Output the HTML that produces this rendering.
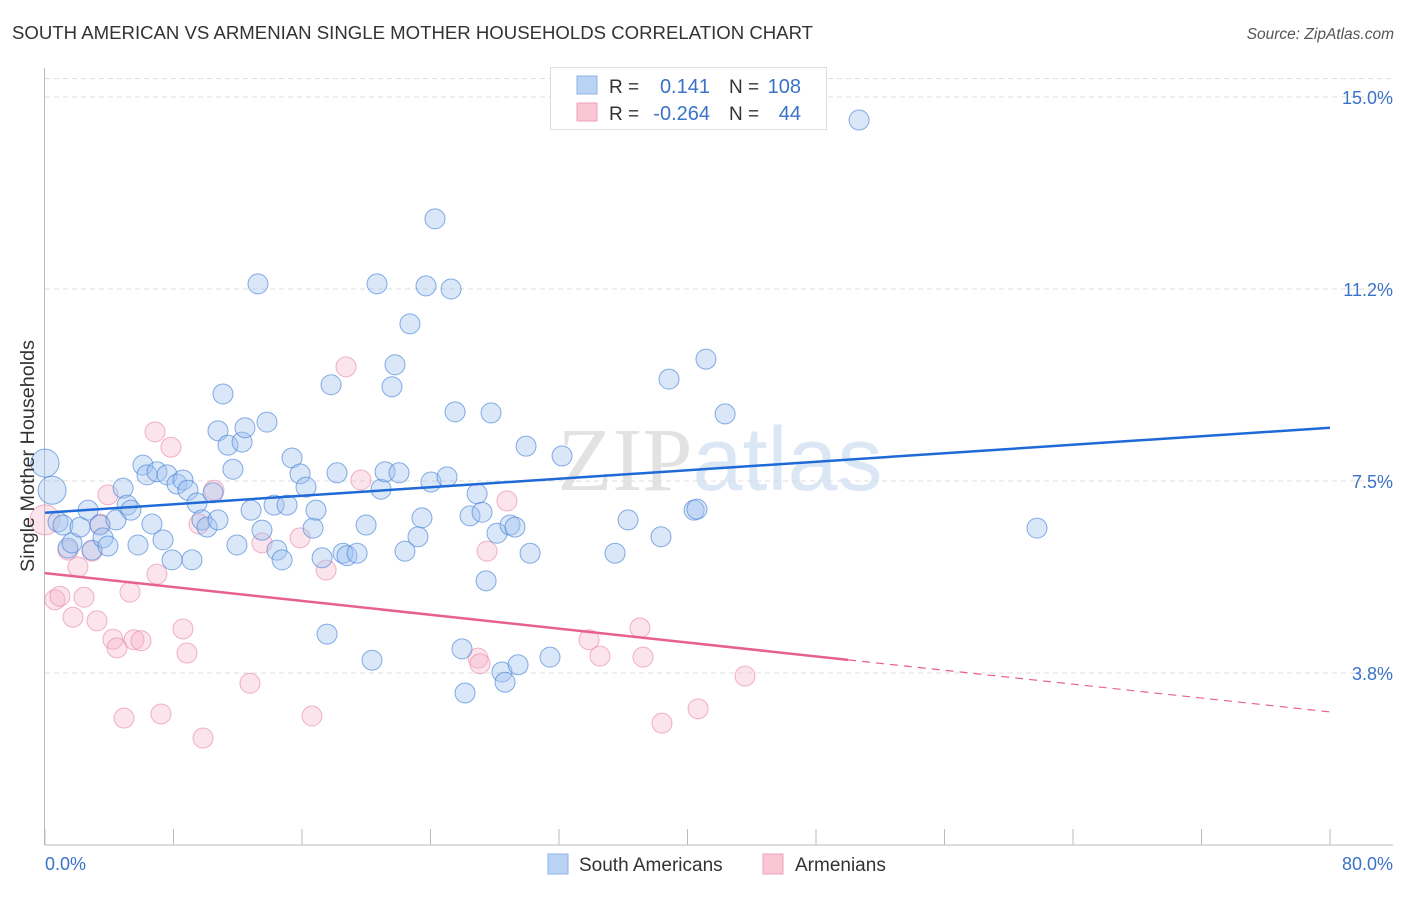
<!DOCTYPE html>
<html><head><meta charset="utf-8"><style>
body{margin:0;background:#fff;font-family:"Liberation Sans",sans-serif;}
svg text{font-family:"Liberation Sans",sans-serif;}
</style></head><body>
<svg id="chart" width="1406" height="892" viewBox="0 0 1406 892" xmlns="http://www.w3.org/2000/svg">
<text x="12" y="39" font-size="18.6" fill="#333">SOUTH AMERICAN VS ARMENIAN SINGLE MOTHER HOUSEHOLDS CORRELATION CHART</text>
<text x="1394" y="39" font-size="15.5" fill="#555" font-style="italic" text-anchor="end">Source: ZipAtlas.com</text>
<text x="720" y="490" font-size="90" fill="#e4e8ee" text-anchor="middle"><tspan font-family="Liberation Serif" fill="#e2e2e2">ZIP</tspan><tspan fill="#dce7f5">atlas</tspan></text>
<g id="grid"></g>
<g id="axes"></g>
<g id="pts"></g>
<g id="trends"></g>
<text x="34" y="456" font-size="19.8" fill="#333" text-anchor="middle" transform="rotate(-90 34 456)">Single Mother Households</text>
<g>
<rect x="550.5" y="67.5" width="276" height="62" fill="#fff" stroke="#ddd"/>
<rect x="577" y="76" width="20" height="18" fill="#b9d3f5" stroke="#8fb2e6"/>
<rect x="577" y="103" width="20" height="18" fill="#f9c6d5" stroke="#eea3bb"/>
<text x="609" y="93" font-size="19" fill="#333">R =</text>
<text x="710" y="93" font-size="20" fill="#3a72c9" text-anchor="end">0.141</text>
<text x="729" y="93" font-size="19" fill="#333">N =</text>
<text x="801" y="93" font-size="20" fill="#3a72c9" text-anchor="end">108</text>
<text x="609" y="120" font-size="19" fill="#333">R =</text>
<text x="710" y="120" font-size="20" fill="#3a72c9" text-anchor="end">-0.264</text>
<text x="729" y="120" font-size="19" fill="#333">N =</text>
<text x="801" y="120" font-size="20" fill="#3a72c9" text-anchor="end">44</text>
</g>
<g>
<rect x="548" y="854" width="20" height="20" fill="#b9d3f5" stroke="#8fb2e6"/>
<text x="579" y="871" font-size="19" fill="#333">South Americans</text>
<rect x="763" y="854" width="20" height="20" fill="#f9c6d5" stroke="#eea3bb"/>
<text x="795" y="871" font-size="19" fill="#333">Armenians</text>
</g>
</svg>
<script>
const blueX=[0,0.44,0.81,1.12,1.43,1.68,2.18,2.68,2.93,3.42,3.61,3.92,4.42,4.86,5.11,5.35,5.79,6.10,6.35,6.66,6.97,7.35,7.60,7.91,8.22,8.59,8.90,9.15,9.46,9.77,10.09,10.46,10.77,11.08,10.77,11.39,11.70,11.95,12.27,12.45,12.83,13.26,13.51,13.82,14.26,14.44,14.76,15.07,15.38,15.88,16.25,16.69,16.87,17.25,17.56,17.81,18.18,18.55,18.80,19.43,19.99,20.36,20.67,20.92,21.17,21.60,21.79,22.04,22.41,22.72,23.22,23.47,23.72,24.03,24.28,25.03,25.28,25.53,25.96,26.15,26.46,26.90,27.21,27.46,27.77,28.14,28.45,28.64,28.95,29.26,29.45,29.95,30.20,31.44,32.19,35.49,36.30,38.35,38.85,40.41,40.59,41.15,42.34,50.68,61.76];
const blueY=[7.85,7.32,6.70,6.64,6.19,6.29,6.60,6.93,6.15,6.64,6.39,6.23,6.74,7.36,7.03,6.93,6.25,7.81,7.62,6.66,7.68,6.35,7.62,5.96,7.44,7.52,7.32,5.96,7.07,6.74,6.60,7.27,6.74,9.20,8.48,8.20,7.73,6.25,8.26,8.54,6.93,11.35,6.54,8.65,7.03,6.15,5.96,7.03,7.95,7.64,7.38,6.58,6.93,6.00,4.51,9.38,7.66,6.09,6.04,6.09,6.64,4.00,11.35,7.34,7.68,9.34,9.77,7.66,6.13,10.57,6.41,6.78,11.31,7.48,12.62,7.58,11.25,8.85,4.22,3.36,6.82,7.25,6.89,5.55,8.83,6.48,3.77,3.57,6.64,6.60,3.91,8.18,6.09,4.06,7.99,6.09,6.74,6.41,9.49,6.93,6.95,9.88,8.81,14.55,6.58];
const pinkX=[0,0.62,0.93,1.43,1.74,2.05,2.43,2.93,3.24,3.42,3.92,4.23,4.48,4.92,5.29,5.54,5.98,6.85,6.97,7.22,7.84,8.59,8.84,9.59,9.84,10.52,12.76,13.51,15.88,16.62,17.50,18.74,19.67,26.96,27.08,27.52,28.76,33.87,34.55,37.04,37.23,38.41,40.66,43.58];
const pinkY=[6.74,5.18,5.25,6.15,4.84,5.82,5.23,6.13,4.77,6.66,7.23,4.41,4.24,2.87,5.33,4.40,4.38,8.46,5.68,2.95,8.16,4.61,4.14,6.66,2.48,7.32,3.55,6.29,6.39,2.91,5.76,9.73,7.52,4.04,3.93,6.13,7.11,4.40,4.08,4.63,4.06,2.77,3.05,3.69];
const blueTrend=[6.88,8.54];
const pinkTrend=[5.70,2.99];
const pinkSolidEnd=50.0;
const yTicks=[3.75,7.5,11.25,15];
const yTickLabels=["3.8%","7.5%","11.2%","15.0%"];
const xTicks=[0,8,16,24,32,40,48,56,64,72,80];

const NS="http://www.w3.org/2000/svg";
const X=v=>45+v/80*1285;
const Y=v=>97+(15-v)*51.2;
function mk(tag,attrs,parent){const e=document.createElementNS(NS,tag);for(const k in attrs)e.setAttribute(k,attrs[k]);parent.appendChild(e);return e;}
const grid=document.getElementById('grid'),axes=document.getElementById('axes'),pts=document.getElementById('pts'),tr=document.getElementById('trends');
mk('line',{x1:45,x2:1393,y1:78.5,y2:78.5,stroke:'#e0e0e0','stroke-dasharray':'5,4'},grid);
yTicks.forEach((t,i)=>{
 const g=mk('line',{x1:45,x2:1393,y1:Y(t),y2:Y(t),stroke:'#dddddd','stroke-dasharray':'5,4'},grid);
 
 
 const l=mk('text',{x:1393,y:Y(t)+7,'font-size':18,fill:'#3a72c9','text-anchor':'end'},axes);
 l.textContent=yTickLabels[i];
 
 
});
mk('line',{x1:44.5,x2:44.5,y1:68,y2:845,stroke:'#bbb'},axes);
mk('line',{x1:44.5,x2:1393,y1:845,y2:845,stroke:'#bbb'},axes);
xTicks.forEach(t=>{
 const m=mk('line',{x1:X(t),x2:X(t),y1:829,y2:845,stroke:'#bbb'},axes);
 
 
});
const xl0=mk('text',{x:45,y:870,'font-size':18,fill:'#3a72c9'},axes);xl0.textContent='0.0%';


const xl1=mk('text',{x:1393,y:870,'font-size':18,fill:'#3a72c9','text-anchor':'end'},axes);xl1.textContent='80.0%';


pinkX.forEach((x,i)=>{
 const c=mk('circle',{cx:X(x),cy:Y(pinkY[i]),r:i===0?15:10,fill:'rgba(246,178,200,0.35)',stroke:'rgba(232,130,165,0.6)','stroke-width':1},pts);
 
 
});
blueX.forEach((x,i)=>{
 const c=mk('circle',{cx:X(x),cy:Y(blueY[i]),r:i<2?14:10,fill:'rgba(160,195,240,0.4)',stroke:'rgba(70,130,215,0.65)','stroke-width':1},pts);
 
 
});
const bl=mk('line',{x1:X(0),y1:Y(blueTrend[0]),x2:X(80),y2:Y(blueTrend[1]),stroke:'#1f6ad6','stroke-width':2.5},tr);


const pv=x=>pinkTrend[0]+(pinkTrend[1]-pinkTrend[0])*x/80;
const pl=mk('line',{x1:X(0),y1:Y(pv(0)),x2:X(pinkSolidEnd),y2:Y(pv(pinkSolidEnd)),stroke:'#e8608f','stroke-width':2.5},tr);


const pd=mk('line',{x1:X(pinkSolidEnd),y1:Y(pv(pinkSolidEnd)),x2:X(80),y2:Y(pv(80)),stroke:'#e8608f','stroke-width':1.2,'stroke-dasharray':'8,6'},tr);


</script>
</body></html>
